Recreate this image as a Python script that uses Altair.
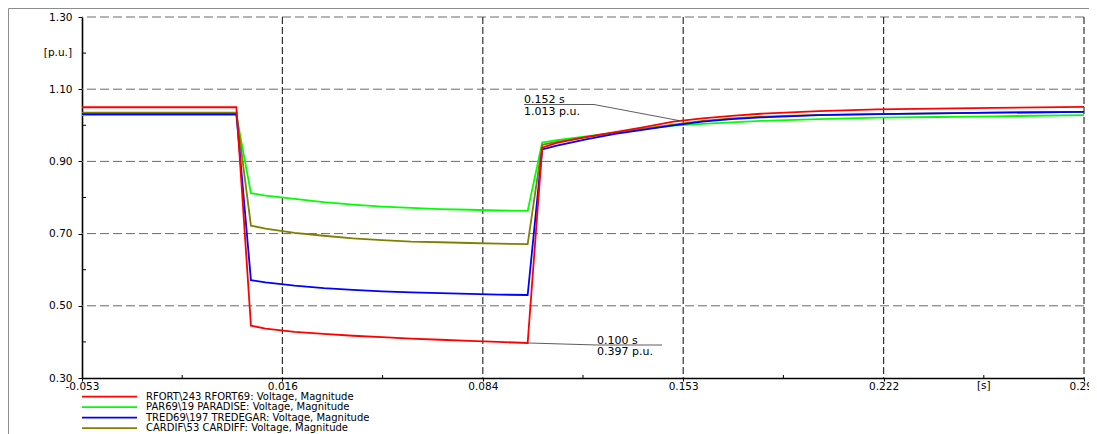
import json
import altair as alt
import pandas as pd

# ---------------- data ----------------
time_s = [-0.053, 0.000, 0.005, 0.010, 0.020, 0.030, 0.040, 0.050, 0.060, 0.070,
          0.080, 0.090, 0.100, 0.105, 0.110, 0.120, 0.130, 0.140, 0.150, 0.160,
          0.170, 0.180, 0.200, 0.220, 0.240, 0.260, 0.291]

rfort_v = [1.050, 1.050, 0.445, 0.437, 0.428, 0.422, 0.417, 0.413, 0.409, 0.406,
           0.403, 0.400, 0.397, 0.938, 0.951, 0.967, 0.981, 0.995, 1.010, 1.019,
           1.026, 1.032, 1.039, 1.044, 1.046, 1.048, 1.051]
paradise_v = [1.028, 1.028, 0.812, 0.805, 0.796, 0.787, 0.780, 0.775, 0.771, 0.768,
              0.766, 0.764, 0.763, 0.952, 0.959, 0.969, 0.980, 0.990, 0.999, 1.004,
              1.008, 1.012, 1.017, 1.021, 1.023, 1.025, 1.028]
tredegar_v = [1.031, 1.031, 0.571, 0.565, 0.556, 0.549, 0.544, 0.540, 0.537, 0.535,
              0.533, 0.531, 0.530, 0.933, 0.944, 0.961, 0.976, 0.988, 1.000, 1.010,
              1.017, 1.022, 1.028, 1.031, 1.033, 1.035, 1.037]
cardiff_v = [1.035, 1.035, 0.722, 0.714, 0.702, 0.694, 0.687, 0.682, 0.678, 0.676,
             0.674, 0.672, 0.671, 0.946, 0.954, 0.967, 0.980, 0.991, 1.002, 1.012,
             1.019, 1.024, 1.029, 1.031, 1.033, 1.035, 1.037]

series_names = [
    "RFORT\\243 RFORT69: Voltage, Magnitude",
    "PAR69\\19 PARADISE: Voltage, Magnitude",
    "TRED69\\197 TREDEGAR: Voltage, Magnitude",
    "CARDIF\\53 CARDIFF: Voltage, Magnitude",
]
series_values = [rfort_v, paradise_v, tredegar_v, cardiff_v]
series_colors = ["#ff0000", "#00ff00", "#0000ff", "#808000"]
draw_order = [1, 3, 2, 0]

x_tick_values = [-0.053, 0.0158, 0.0846, 0.1534, 0.2222, 0.291]
x_tick_labels = ["-0.053", "0.016", "0.084", "0.153", "0.222", "0.291"]
x_minor_ticks = [-0.0186, 0.0502, 0.1190, 0.1878, 0.2566]
x_grid = [0.0158, 0.0846, 0.1534, 0.2222, 0.291]
y_tick_values = [0.30, 0.50, 0.70, 0.90, 1.10, 1.30]
y_minor_ticks = [0.40, 0.60, 0.80, 1.00, 1.20]
y_grid = [0.50, 0.70, 0.90, 1.10, 1.30]
x_unit = "[s]"
y_unit = "[p.u.]"

cursor_t = [0.152, 0.100]
cursor_v = [1.013, 0.397]

# ---------------- layout / style ----------------
W, H = 1002, 361
FONT = "DejaVu Sans"
FS = 10.5
LFS = 10
AFS = 11

xs = alt.Scale(domain=[-0.053, 0.291], nice=False, zero=False)
ys = alt.Scale(domain=[0.30, 1.30], nice=False, zero=False)

label_expr = f"{json.dumps(x_tick_labels)}[indexof({json.dumps(x_tick_values)}, datum.value)]"
x_axis = alt.Axis(values=x_tick_values, labelExpr=label_expr, tickSize=3, labelPadding=0,
                  domainColor="black", domainWidth=1.6, tickColor="black", grid=False,
                  labelFont=FONT, labelFontSize=FS, labelColor="black", title=None,
                  labelFlush=False, labelOverlap=False)
y_axis = alt.Axis(values=y_tick_values, format=".2f", tickSize=4, labelPadding=6,
                  domainColor="black", domainWidth=1.6, tickColor="black", grid=False,
                  labelFont=FONT, labelFontSize=FS, labelColor="black", title=None,
                  labelFlush=False, labelOverlap=False)


def X(field="t"):
    return alt.X(f"{field}:Q", scale=xs, axis=x_axis, title=None)


def Y(field="v"):
    return alt.Y(f"{field}:Q", scale=ys, axis=y_axis, title=None)


layers = []

# horizontal grid (gray dashed)
layers.append(alt.Chart(pd.DataFrame({"v": y_grid})).mark_rule(
    color="#6a6a6a", strokeDash=[9, 4], strokeWidth=1).encode(y=Y()))
# vertical grid (dark dashed)
layers.append(alt.Chart(pd.DataFrame({"t": x_grid})).mark_rule(
    color="#333333", strokeDash=[7, 3], strokeWidth=1.2).encode(x=X()))

# minor ticks (inward)
layers.append(alt.Chart(pd.DataFrame({"v": y_minor_ticks})).mark_rule(
    color="black", strokeWidth=1).encode(y=Y(), x=alt.value(0), x2=alt.value(4)))
layers.append(alt.Chart(pd.DataFrame({"t": x_minor_ticks})).mark_rule(
    color="black", strokeWidth=1).encode(x=X(), y=alt.value(H), y2=alt.value(H - 3)))

# unit labels
layers.append(alt.Chart(pd.DataFrame({"v": [y_minor_ticks[-1]], "lab": [y_unit]})).mark_text(
    align="right", baseline="middle", font=FONT, fontSize=FS, color="black").encode(
    y=Y(), x=alt.value(-10), text="lab:N"))
layers.append(alt.Chart(pd.DataFrame({"t": [x_minor_ticks[-1]], "lab": [x_unit]})).mark_text(
    align="center", baseline="top", font=FONT, fontSize=FS, color="black").encode(
    x=X(), y=alt.value(H + 3), text="lab:N"))

# series lines
for i in draw_order:
    df = pd.DataFrame({"t": time_s, "v": series_values[i]})
    layers.append(alt.Chart(df).mark_line(color=series_colors[i], strokeWidth=1.8).encode(
        x=X(), y=Y()))

# cursor annotations
ann_color = "#333333"
ann = [
    # (leader end x, y, underline start x, underline end x, text x, text1 y, text2 y)
    (512, 87.5, 442, 512, 442, 86, 97.5),
    (515, 328, 515, 580, 515, 326.5, 338),
]
for k in range(2):
    ex, ey, ux0, ux1, tx, ty1, ty2 = ann[k]
    cdf = pd.DataFrame({"t": [cursor_t[k]], "v": [cursor_v[k]],
                        "l1": [f"{cursor_t[k]:.3f} s"], "l2": [f"{cursor_v[k]:.3f} p.u."]})
    layers.append(alt.Chart(cdf).mark_rule(color=ann_color, strokeWidth=0.8).encode(
        x=X(), y=Y(), x2=alt.value(ex), y2=alt.value(ey)))
    layers.append(alt.Chart(cdf).mark_rule(color=ann_color, strokeWidth=0.8).encode(
        x=alt.value(ux0), x2=alt.value(ux1), y=alt.value(ey)))
    layers.append(alt.Chart(cdf).mark_text(align="left", baseline="alphabetic", font=FONT,
                                           fontSize=AFS, color="black").encode(
        x=alt.value(tx), y=alt.value(ty1), text="l1:N"))
    layers.append(alt.Chart(cdf).mark_text(align="left", baseline="alphabetic", font=FONT,
                                           fontSize=AFS, color="black").encode(
        x=alt.value(tx), y=alt.value(ty2), text="l2:N"))

# legend (below plot)
for i in range(4):
    ry = 379.7 + i * 10.5
    ldf = pd.DataFrame({"name": [series_names[i]]})
    layers.append(alt.Chart(ldf).mark_rule(color=series_colors[i], strokeWidth=1.8).encode(
        x=alt.value(0), x2=alt.value(55), y=alt.value(ry)))
    layers.append(alt.Chart(ldf).mark_text(align="left", baseline="middle", font=FONT,
                                           fontSize=LFS, color="black").encode(
        x=alt.value(64), y=alt.value(ry), text="name:N"))

# outer frame lines
fdf = pd.DataFrame({"a": [0]})
layers.append(alt.Chart(fdf).mark_rule(color="#8c8c8c", strokeWidth=1).encode(
    x=alt.value(-73.5), y=alt.value(-8.5), y2=alt.value(H + 56)))
layers.append(alt.Chart(fdf).mark_rule(color="#8c8c8c", strokeWidth=1).encode(
    x=alt.value(-73.5), x2=alt.value(W + 5), y=alt.value(-8.5)))

chart = alt.layer(*layers).properties(
    width=W, height=H,
    padding={"left": 74, "top": 9, "right": 5, "bottom": 56},
    autosize=alt.AutoSizeParams(type="none"),
    background="white",
).configure_view(stroke=None)

chart.save("out.html", embed_options={"renderer": "svg", "actions": False})
